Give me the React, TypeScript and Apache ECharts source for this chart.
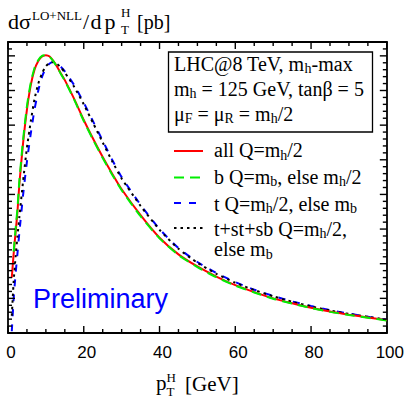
import React, { useEffect, useRef } from "react";
import * as echarts from "echarts";

// ---- data ----
const pT = [1, 1.5, 2, 2.5, 3, 4, 5, 6, 7, 8, 9, 10, 11, 12, 13, 14, 15, 17.5, 20, 22.5, 25, 27.5, 30, 35, 40, 45, 50, 55, 60, 65, 70, 75, 80, 85, 90, 95, 100];
const allQ = [1.6, 2.3, 2.9, 3.5, 4.3, 5.5, 6.45, 7.15, 7.6, 7.85, 7.98, 8.02, 7.98, 7.85, 7.68, 7.48, 7.3, 6.75, 6.15, 5.6, 5.08, 4.6, 4.15, 3.4, 2.75, 2.27, 1.92, 1.63, 1.38, 1.18, 1.0, 0.86, 0.73, 0.62, 0.53, 0.45, 0.37];
const bQ = [null, 2.35, 3.0, 3.6, 4.4, 5.6, 6.55, 7.22, 7.65, 7.88, 8.0, 8.02, 7.97, 7.84, 7.67, 7.47, 7.28, 6.73, 6.12, 5.57, 5.05, 4.57, 4.12, 3.37, 2.73, 2.25, 1.9, 1.61, 1.37, 1.17, 0.99, 0.85, 0.72, 0.61, 0.52, 0.44, 0.36];
const tQ = [0.05, 1.0, 1.7, 2.3, 2.9, 4.0, 4.95, 5.75, 6.45, 7.0, 7.4, 7.65, 7.78, 7.82, 7.78, 7.68, 7.55, 7.15, 6.65, 6.1, 5.55, 5.0, 4.5, 3.7, 3.0, 2.45, 2.05, 1.73, 1.47, 1.25, 1.07, 0.91, 0.78, 0.66, 0.56, 0.47, 0.38];
const tstsbQ = [0.5, 1.5, 2.2, 2.8, 3.35, 4.4, 5.35, 6.1, 6.75, 7.2, 7.5, 7.7, 7.8, 7.82, 7.76, 7.66, 7.52, 7.1, 6.6, 6.05, 5.5, 4.96, 4.46, 3.67, 2.98, 2.43, 2.03, 1.71, 1.45, 1.24, 1.06, 0.9, 0.77, 0.65, 0.55, 0.47, 0.38];
const X_MIN = 0, X_MAX = 100, X_INTERVAL = 20;
const Y_MIN = 0, Y_MAX = 8.4, Y_INTERVAL = 1;
// tick positions (axis values) on the frame: major every 20 / 1, minor every 5 / 0.2
const xMajorTicks = [0, 20, 40, 60, 80, 100];
const xMinorTicks = [5, 10, 15, 25, 30, 35, 45, 50, 55, 65, 70, 75, 85, 90, 95];
const yMajorTicks = [0, 1, 2, 3, 4, 5, 6, 7, 8];
const yMinorTicks = [0.2, 0.4, 0.6, 0.8, 1.2, 1.4, 1.6, 1.8, 2.2, 2.4, 2.6, 2.8, 3.2, 3.4, 3.6, 3.8, 4.2, 4.4, 4.6, 4.8, 5.2, 5.4, 5.6, 5.8, 6.2, 6.4, 6.6, 6.8, 7.2, 7.4, 7.6, 7.8, 8.2];

const SERIF = '"Liberation Serif", "Times New Roman", serif';
const SANS = '"Liberation Sans", Arial, sans-serif';
const MAJOR_LEN = 7;
const MINOR_LEN = 4;
const TICK_W = 1.4;

const pairs = (ys: (number | null)[]) =>
  pT.map((x, i) => [x, ys[i]]).filter((p) => p[1] !== null);

const richStyles = {
  n: { fontSize: 20, fontFamily: SERIF, lineHeight: 24, verticalAlign: "middle", fill: "#000" },
  s: { fontSize: 14, fontFamily: SERIF, lineHeight: 10, verticalAlign: "bottom", fill: "#000" },
};

const richText = (x: number, y: number, text: string) => ({
  type: "text",
  x,
  y,
  style: { text, rich: richStyles, align: "left", verticalAlign: "middle", fill: "#000" },
});

const plain = (x: number, y: number, text: string, size: number, family = SERIF, fill = "#000") => ({
  type: "text",
  x,
  y,
  style: { text, fontSize: size, fontFamily: family, fill, align: "left", verticalAlign: "middle" },
});

const legLine = (y: number, color: string, dash: number[] | null) => ({
  type: "line",
  shape: { x1: 174, y1: y, x2: 203, y2: y },
  style: { stroke: color, lineWidth: 2, lineDash: dash || undefined },
});

const axis = (isX: boolean, position: string, labels: boolean) => ({
  type: "value",
  position,
  min: isX ? X_MIN : Y_MIN,
  max: isX ? X_MAX : Y_MAX,
  interval: isX ? X_INTERVAL : Y_INTERVAL,
  axisLine: { show: true, onZero: false, lineStyle: { color: "#000", width: 1.8 } },
  axisTick: { show: false },
  splitLine: { show: false },
  axisLabel: labels
    ? { show: true, margin: 11, fontFamily: SANS, fontSize: 17, color: "#000", padding: [0, 0, 0, 6] }
    : { show: false },
});

const staticGraphic = [
  // title
  plain(8, 21.5, "d", 22),
  plain(19, 21.5, "σ", 22),
  plain(32, 15, "LO+NLL", 13),
  plain(83, 21.5, "/", 22),
  plain(90.5, 21.5, "d", 22),
  plain(104.5, 21.5, "p", 22),
  plain(121, 12.5, "H", 13),
  plain(121, 29.5, "T", 13),
  plain(137, 21.5, "[pb]", 20),
  // x axis name
  plain(156, 383, "p", 21),
  plain(166.5, 377, "H", 13),
  plain(166.5, 391, "T", 13),
  plain(185, 383.5, "[GeV]", 21),
  // info box
  {
    type: "rect",
    shape: { x: 168.5, y: 52, width: 204, height: 80 },
    style: { fill: "transparent", stroke: "#000", lineWidth: 1.3 },
  },
  richText(174, 63.5, "{n|LHC@8 TeV, m}{s|h}{n|-max}"),
  richText(174, 88.5, "{n|m}{s|h}{n| = 125 GeV, tanβ = 5}"),
  richText(174, 113.5, "{n|μ}{s|F}{n| = μ}{s|R}{n| = m}{s|h}{n|/2}"),
  // legend
  legLine(151, "#ff0000", null),
  legLine(177.5, "#00ee00", [10, 6]),
  legLine(203, "#0000ff", [7, 8]),
  legLine(228, "#000000", [2.5, 4]),
  richText(214, 150, "{n|all Q=m}{s|h}{n|/2}"),
  richText(214, 176.5, "{n|b Q=m}{s|b}{n|, else m}{s|h}{n|/2}"),
  richText(214, 203.5, "{n|t Q=m}{s|h}{n|/2, else m}{s|b}"),
  richText(214, 228.5, "{n|t+st+sb Q=m}{s|h}{n|/2,}"),
  richText(214, 249, "{n|else m}{s|b}"),
  // preliminary
  plain(33, 299, "Preliminary", 27, SANS, "#0000ff"),
];

const tickRect = (x: number, y: number, w: number, h: number) => ({
  type: "rect",
  silent: true,
  z: 100,
  shape: { x, y, width: w, height: h },
  style: { fill: "#000", stroke: "none" },
});

export default function App() {
  const ref = useRef<HTMLDivElement>(null);
  useEffect(() => {
    if (!ref.current) return;
    const chart = echarts.init(ref.current, null, { renderer: "svg" });

    const option = {
      animation: false,
      grid: { left: 8, right: 19, top: 42, bottom: 65 },
      xAxis: [axis(true, "bottom", true), axis(true, "top", false)],
      yAxis: [axis(false, "left", false), axis(false, "right", false)],
      series: [
        {
          name: "t Q=mh/2, else mb",
          type: "line",
          data: pairs(tQ),
          showSymbol: false,
          symbol: "none",
          smooth: 0.2,
          z: 2,
          lineStyle: { color: "#0000ff", width: 2, type: [7, 8] },
        },
        {
          name: "t+st+sb Q=mh/2, else mb",
          type: "line",
          data: pairs(tstsbQ),
          showSymbol: false,
          symbol: "none",
          smooth: 0.2,
          z: 3,
          lineStyle: { color: "#000000", width: 2, type: [2.5, 4] },
        },
        {
          name: "all Q=mh/2",
          type: "line",
          data: pairs(allQ),
          showSymbol: false,
          symbol: "none",
          smooth: 0.2,
          z: 4,
          lineStyle: { color: "#ff0000", width: 2, type: "solid" },
        },
        {
          name: "b Q=mb, else mh/2",
          type: "line",
          data: pairs(bQ),
          showSymbol: false,
          symbol: "none",
          smooth: 0.2,
          z: 5,
          lineStyle: { color: "#00ee00", width: 2, type: [10, 6] },
        },
      ],
      graphic: staticGraphic,
    };

    chart.setOption(option as any);

    // frame ticks: positions obtained from the chart's own scales
    const finder = { gridIndex: 0 };
    const ticks: any[] = [];
    const addX = (v: number, len: number) => {
      const b = chart.convertToPixel(finder as any, [v, Y_MIN]) as number[];
      const t = chart.convertToPixel(finder as any, [v, Y_MAX]) as number[];
      ticks.push(tickRect(b[0] - TICK_W / 2, b[1] - len, TICK_W, len));
      ticks.push(tickRect(t[0] - TICK_W / 2, t[1], TICK_W, len));
    };
    const addY = (v: number, len: number) => {
      const l = chart.convertToPixel(finder as any, [X_MIN, v]) as number[];
      const r = chart.convertToPixel(finder as any, [X_MAX, v]) as number[];
      ticks.push(tickRect(l[0], l[1] - TICK_W / 2, len, TICK_W));
      ticks.push(tickRect(r[0] - len, r[1] - TICK_W / 2, len, TICK_W));
    };
    xMajorTicks.forEach((v) => addX(v, MAJOR_LEN));
    xMinorTicks.forEach((v) => addX(v, MINOR_LEN));
    yMajorTicks.forEach((v) => addY(v, MAJOR_LEN));
    yMinorTicks.forEach((v) => addY(v, MINOR_LEN));

    chart.setOption({ graphic: [...staticGraphic, ...ticks] } as any);

    return () => chart.dispose();
  }, []);

  return (
    <div
      ref={ref}
      style={{ position: "fixed", left: 0, top: 0, width: 407, height: 398, background: "#fff" }}
    />
  );
}
